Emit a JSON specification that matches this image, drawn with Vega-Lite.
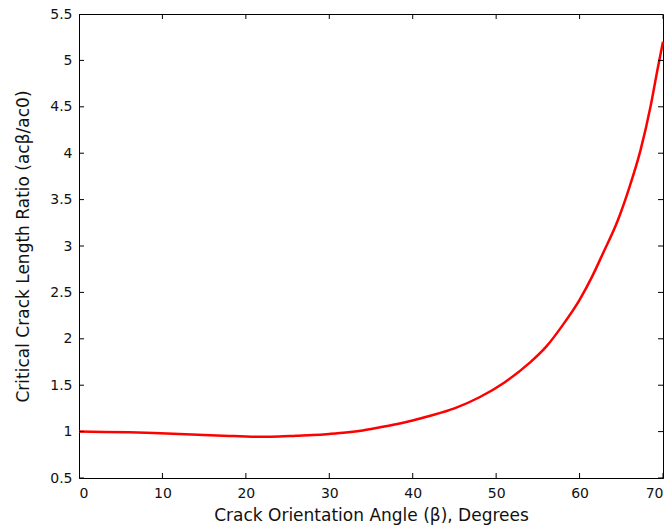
{
  "$schema": "https://vega.github.io/schema/vega-lite/v6.json",
  "width": 584,
  "height": 464,
  "autosize": {"type": "none"},
  "padding": {"left": 79, "top": 14, "right": 5, "bottom": 54},
  "background": "white",
  "datasets": {
    "curve": [
      {"angle": 0, "ratio": 1.0},
      {"angle": 3, "ratio": 0.997},
      {"angle": 6, "ratio": 0.992},
      {"angle": 9, "ratio": 0.985},
      {"angle": 12, "ratio": 0.975},
      {"angle": 15, "ratio": 0.963},
      {"angle": 18, "ratio": 0.953},
      {"angle": 20, "ratio": 0.947},
      {"angle": 22, "ratio": 0.944},
      {"angle": 24, "ratio": 0.946},
      {"angle": 26, "ratio": 0.955},
      {"angle": 28, "ratio": 0.963},
      {"angle": 30, "ratio": 0.975},
      {"angle": 32, "ratio": 0.99},
      {"angle": 34, "ratio": 1.012},
      {"angle": 36, "ratio": 1.045},
      {"angle": 38, "ratio": 1.08},
      {"angle": 40, "ratio": 1.12},
      {"angle": 42, "ratio": 1.168},
      {"angle": 45, "ratio": 1.25},
      {"angle": 48, "ratio": 1.37},
      {"angle": 51, "ratio": 1.53},
      {"angle": 54, "ratio": 1.74},
      {"angle": 56, "ratio": 1.915},
      {"angle": 58, "ratio": 2.15},
      {"angle": 60, "ratio": 2.42},
      {"angle": 61.5, "ratio": 2.67},
      {"angle": 62.8, "ratio": 2.92},
      {"angle": 64.6, "ratio": 3.28},
      {"angle": 66, "ratio": 3.64},
      {"angle": 67.3, "ratio": 4.03},
      {"angle": 68.5, "ratio": 4.5},
      {"angle": 69.4, "ratio": 4.93},
      {"angle": 70, "ratio": 5.2}
    ],
    "xticks": [{"v": 0}, {"v": 10}, {"v": 20}, {"v": 30}, {"v": 40}, {"v": 50}, {"v": 60}, {"v": 70}],
    "yticks": [{"v": 0.5}, {"v": 1}, {"v": 1.5}, {"v": 2}, {"v": 2.5}, {"v": 3}, {"v": 3.5}, {"v": 4}, {"v": 4.5}, {"v": 5}, {"v": 5.5}]
  },
  "layer": [
    {
      "data": {"name": "curve"},
      "mark": {"type": "line", "color": "#ff0000", "strokeWidth": 2.5, "interpolate": "monotone"},
      "encoding": {
        "x": {
          "field": "angle", "type": "quantitative",
          "scale": {"domain": [0, 70], "nice": false, "zero": false},
          "axis": {"orient": "bottom", "values": [0, 10, 20, 30, 40, 50, 60, 70], "title": "Crack Orientation Angle (β), Degrees", "ticks": false, "labelPadding": 8, "titlePadding": 7}
        },
        "y": {
          "field": "ratio", "type": "quantitative",
          "scale": {"domain": [0.5, 5.5], "nice": false, "zero": false},
          "axis": {"orient": "left", "values": [0.5, 1, 1.5, 2, 2.5, 3, 3.5, 4, 4.5, 5, 5.5], "format": ".2~f", "title": "Critical Crack Length Ratio (acβ/ac0)", "ticks": false, "labelPadding": 7, "titlePadding": 17}
        }
      }
    },
    {
      "data": {"name": "xticks"},
      "mark": {"type": "tick", "orient": "vertical", "color": "black", "size": 10, "thickness": 1, "clip": true, "opacity": 1},
      "encoding": {
        "x": {"field": "v", "type": "quantitative"},
        "y": {"datum": 0.5, "type": "quantitative"}
      }
    },
    {
      "data": {"name": "xticks"},
      "mark": {"type": "tick", "orient": "vertical", "color": "black", "size": 10, "thickness": 1, "clip": true, "opacity": 1},
      "encoding": {
        "x": {"field": "v", "type": "quantitative"},
        "y": {"datum": 5.5, "type": "quantitative"}
      }
    },
    {
      "data": {"name": "yticks"},
      "mark": {"type": "tick", "orient": "horizontal", "color": "black", "size": 10, "thickness": 1, "clip": true, "opacity": 1},
      "encoding": {
        "y": {"field": "v", "type": "quantitative"},
        "x": {"datum": 0, "type": "quantitative"}
      }
    },
    {
      "data": {"name": "yticks"},
      "mark": {"type": "tick", "orient": "horizontal", "color": "black", "size": 10, "thickness": 1, "clip": true, "opacity": 1},
      "encoding": {
        "y": {"field": "v", "type": "quantitative"},
        "x": {"datum": 70, "type": "quantitative"}
      }
    }
  ],
  "config": {
    "view": {"stroke": "black", "strokeWidth": 1},
    "axis": {
      "grid": false,
      "domainColor": "black",
      "labelFont": "DejaVu Sans",
      "labelFontSize": 14,
      "labelColor": "#111111",
      "titleFont": "DejaVu Sans",
      "titleFontSize": 17,
      "titleFontWeight": "normal",
      "titleColor": "#111111"
    }
  }
}
